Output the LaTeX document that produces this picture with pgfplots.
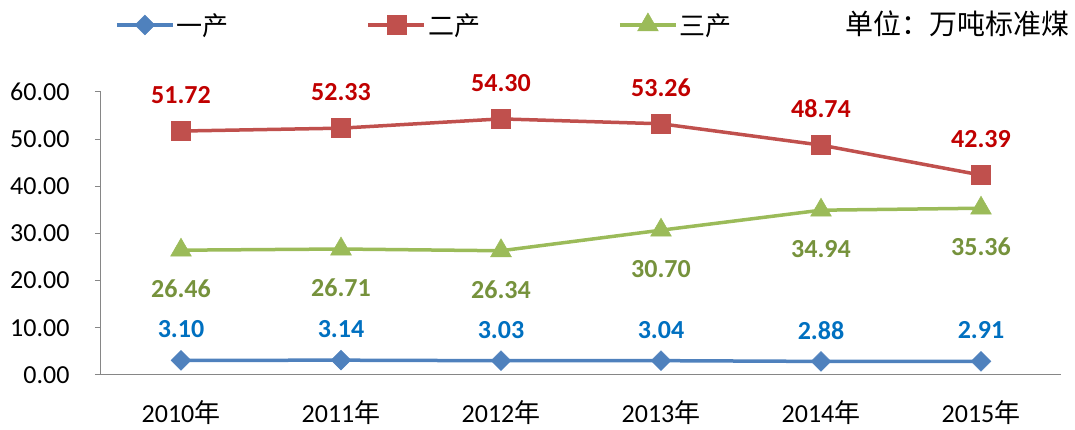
\documentclass[border=0pt]{standalone}
\usepackage{pgfplots}
\pgfplotsset{compat=1.18}
\usepackage{fontspec}
\setmainfont{Carlito}
\newfontfamily\cjk{Noto Sans CJK SC}
\definecolor{sblue}{HTML}{4F81BD}
\definecolor{sred}{HTML}{C0504D}
\definecolor{sgreen}{HTML}{9BBB59}
\definecolor{lblue}{HTML}{0070C0}
\definecolor{lred}{HTML}{C00000}
\definecolor{lgreen}{HTML}{76923C}
\definecolor{axgray}{HTML}{868686}
\begin{document}
\begin{tikzpicture}
\begin{axis}[
  at={(0,0)}, anchor=south west,
  scale only axis, width=960pt, height=283pt,
  xmin=-0.5, xmax=5.5, ymin=0, ymax=60,
  axis x line*=bottom, axis y line*=left,
  axis line style={draw=axgray, line width=1pt, -},
  tick align=outside,
  xtick={0,1,2,3,4,5},
  xticklabels={2010{\cjk 年},2011{\cjk 年},2012{\cjk 年},2013{\cjk 年},2014{\cjk 年},2015{\cjk 年}},
  major x tick style={draw=none},
  x tick label style={font=\fontsize{26}{26}\selectfont, inner ysep=0pt, yshift=-19pt},
  extra x ticks={-0.5,0.5,1.5,2.5,3.5,4.5,5.5},
  extra x tick labels={},
  extra x tick style={major tick length=6pt, tick style={draw=axgray, line width=1pt}},
  ytick={0,10,...,60},
  major tick length=6pt,
  y tick style={draw=axgray, line width=1pt},
  y tick label style={font=\fontsize{26}{26}\selectfont, xshift=-22pt},
  /pgf/number format/.cd, fixed, zerofill, precision=2, assume math mode=true,
  /pgfplots/.cd,
  every axis plot/.append style={line width=3.5pt},
  legend columns=3,
  legend style={at={(rel axis cs:0,1)}, anchor=west, xshift=14pt, yshift=67pt,
    draw=none, inner sep=0pt, font=\cjk\fontsize{26}{26}\selectfont,
    /tikz/every even column/.append style={column sep=136pt}},
  legend image code/.code={\draw[mark repeat=2, mark phase=2, #1] plot coordinates {(0pt,0pt) (28pt,0pt) (56pt,0pt)};},
  clip=false,
]
\addplot[color=sblue, mark=square*, mark size=7pt, mark options={rotate=45, solid, line width=0.5pt, fill=sblue},
  nodes near coords, every node near coord/.append style={font=\bfseries\fontsize{26}{26}\selectfont, color=lblue, anchor=center, yshift=31pt}]
  coordinates {(0,3.10) (1,3.14) (2,3.03) (3,3.04) (4,2.88) (5,2.91)};
\addlegendentry{一产}
\addplot[color=sred, mark=square*, mark size=9.5pt, mark options={solid, line width=0.5pt, fill=sred},
  nodes near coords, every node near coord/.append style={font=\bfseries\fontsize{26}{26}\selectfont, color=lred, anchor=center, yshift=36pt}]
  coordinates {(0,51.72) (1,52.33) (2,54.30) (3,53.26) (4,48.74) (5,42.39)};
\addlegendentry{二产}
\addplot[color=sgreen, mark=triangle*, mark size=12pt, mark options={solid, line width=0.5pt, fill=sgreen},
  nodes near coords, every node near coord/.append style={font=\bfseries\fontsize{26}{26}\selectfont, color=lgreen, anchor=center, yshift=-39pt}]
  coordinates {(0,26.46) (1,26.71) (2,26.34) (3,30.70) (4,34.94) (5,35.36)};
\addlegendentry{三产}
\node[anchor=east, font=\cjk\fontsize{28}{28}\selectfont, inner sep=0pt] at ([xshift=9pt, yshift=68pt]rel axis cs:1,1) {单位：万吨标准煤};
\end{axis}
\pgfresetboundingbox
\path (-101pt,-55pt) rectangle (974pt,375pt);
\end{tikzpicture}
\end{document}
